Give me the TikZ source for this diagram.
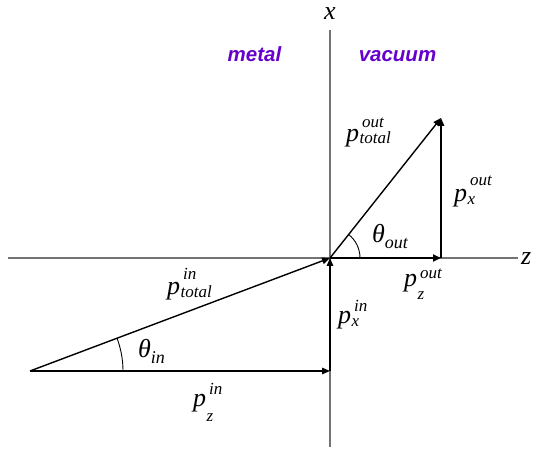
\documentclass[tikz,border=0pt]{standalone}
\usepackage{fontspec}
\setmainfont{Liberation Serif}
\newfontfamily\labsans{Liberation Sans}
\usetikzlibrary{arrows.meta}
\definecolor{regionpurple}{HTML}{6600CC}
\newsavebox\supbx
\newsavebox\subbx
\newcommand{\mainsz}{\fontsize{26}{28}\selectfont\itshape}
\newcommand{\scrsz}{\fontsize{17}{18}\selectfont\itshape}
% #1 superscript, #2 subscript, #3 sup raise, #4 sub drop
\newcommand{\plab}[4]{%
  \sbox\supbx{\scrsz #1}\sbox\subbx{\scrsz #2}%
  {\mainsz p}\hspace{0.5pt}%
  \rlap{\raisebox{#3}{\hspace{2.5pt}\usebox\supbx}}%
  \raisebox{-#4}{\usebox\subbx}%
  \ifdim\dimexpr\wd\supbx+2.5pt\relax>\wd\subbx
    \hspace{\dimexpr\wd\supbx+2.5pt-\wd\subbx\relax}\fi}
\newcommand{\thlab}[1]{{\mainsz θ}\raisebox{-6pt}{\fontsize{18}{18}\selectfont\itshape #1}}
\begin{document}
\begin{tikzpicture}[x=1pt,y=1pt,
  axisline/.style={line width=1.1pt, black!55},
  vec/.style={line width=1.4pt, -{Triangle[length=8pt,width=6.5pt]}},
  vecthick/.style={line width=2.6pt, -{Triangle[length=8pt,width=7pt]}},
  anglearc/.style={line width=0.9pt},
  lab/.style={inner sep=0pt, anchor=base west},
  axlab/.style={font=\fontsize{26}{28}\selectfont\itshape, inner sep=0pt},
  region/.style={font=\labsans\fontsize{20.5}{22}\selectfont\bfseries\itshape, text=regionpurple, inner sep=0pt, anchor=base}]
\useasboundingbox (0,0) rectangle (536,452);
% axes
\coordinate (ztop) at (330,422);
\coordinate (zbot) at (330,5);
\coordinate (hleft) at (8,194);
\coordinate (hright) at (518,194);
\draw[axisline] (zbot) -- (ztop);
\draw[axisline] (hleft) -- (hright);
\node[axlab, anchor=base] (xl) at (330,432) {x};
\node[axlab, anchor=base west] (zl) at (521,187) {z};
\node[region] (metal) at (254.5,390) {metal};
\node[region] (vac) at (397.5,390) {vacuum};
% points
\coordinate (O) at (330,194);
\coordinate (T) at (441,334);
\coordinate (Z) at (441,194);
\coordinate (A) at (30,81);
\coordinate (C) at (330,81);
% out triangle
\draw[vec] (O) -- (T);
\draw[vec] (Z) -- (T);
\draw[vecthick] (O) -- (Z);
\draw[anglearc] ([shift={(0:30)}]O) arc[start angle=0,end angle=51.6,radius=30];
% in triangle
\draw[vec] (A) -- (C);
\draw[vec] (C) -- (O);
\draw[vec] (A) -- (O);
\draw[anglearc] ([shift={(0:93)}]A) arc[start angle=0,end angle=20.6,radius=93];
% labels
\node[lab] (ptout) at (346,310) {\plab{out}{total}{14pt}{2pt}};
\node[lab] (pxout) at (454,250) {\plab{out}{x}{16pt}{3pt}};
\node[lab] (thout) at (372,209) {\thlab{out}};
\node[lab] (pzout) at (404,165) {\plab{out}{z}{8pt}{13pt}};
\node[lab] (ptin) at (167,157) {\plab{in}{total}{15pt}{3pt}};
\node[lab] (pxin) at (338,128) {\plab{in}{x}{12pt}{3pt}};
\node[lab] (thin) at (138,94) {\thlab{in}};
\node[lab] (pzin) at (193,45) {\plab{in}{z}{12pt}{15pt}};
\end{tikzpicture}
\end{document}
